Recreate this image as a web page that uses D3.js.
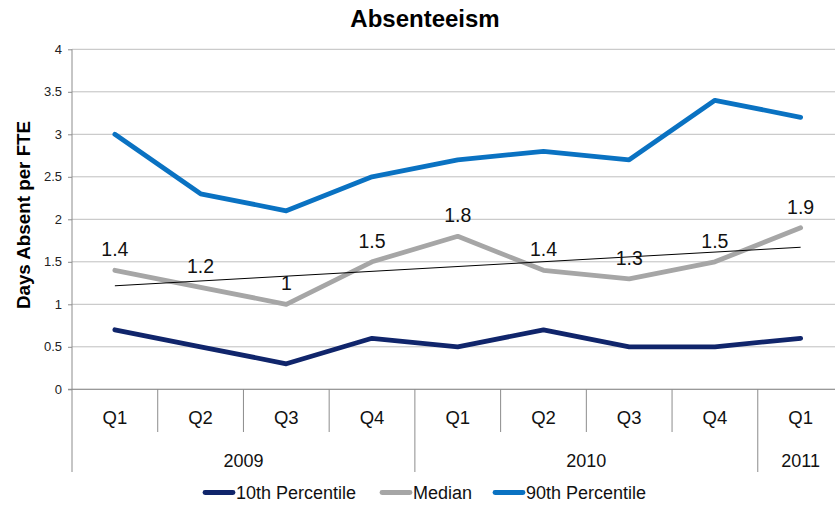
<!DOCTYPE html>
<html>
<head>
<meta charset="utf-8">
<script src="https://cdn.jsdelivr.net/npm/d3@7"></script>
<style>
  body { margin: 0; background: #fff; }
  svg { display: block; font-family: "Liberation Sans", Arial, sans-serif; }
</style>
</head>
<body>
<svg id="chart" width="835" height="506"></svg>
<script>
// Quarterly absenteeism, days absent per FTE
const quarters = ["Q1", "Q2", "Q3", "Q4", "Q1", "Q2", "Q3", "Q4", "Q1"];
const years = ["2009", "2009", "2009", "2009", "2010", "2010", "2010", "2010", "2011"];
const p10 = [0.7, 0.5, 0.3, 0.6, 0.5, 0.7, 0.5, 0.5, 0.6];
const median = [1.4, 1.2, 1.0, 1.5, 1.8, 1.4, 1.3, 1.5, 1.9];
const p90 = [3.0, 2.3, 2.1, 2.5, 2.7, 2.8, 2.7, 3.4, 3.2];
const yTicks = [0, 0.5, 1, 1.5, 2, 2.5, 3, 3.5, 4];
const seriesNames = ["10th Percentile", "Median", "90th Percentile"];
const seriesColors = ["#10256b", "#a6a6a6", "#0a72c2"];

const svg = d3.select("#chart");
const plotLeft = 72, plotRight = 843.5, plotTop = 49.3, plotBottom = 389.3;

const idx = d3.range(quarters.length);
const x = d3.scaleBand().domain(idx).range([plotLeft, plotRight]).padding(0);
const cx = i => x(i) + x.bandwidth() / 2;
const y = d3.scaleLinear().domain([0, 4]).range([plotBottom, plotTop]);

// Horizontal gridlines
svg.append("g").selectAll("line").data(yTicks).join("line")
  .attr("x1", plotLeft).attr("x2", plotRight)
  .attr("y1", d => y(d)).attr("y2", d => y(d))
  .attr("stroke", "#bfbfbf").attr("stroke-width", 1);

// Y axis
const yAxis = svg.append("g").attr("transform", `translate(${plotLeft},0)`)
  .call(d3.axisLeft(y).tickValues(yTicks).tickSize(4).tickPadding(6)
    .tickFormat(d => d3.format("~g")(d)));
yAxis.select(".domain").remove();
yAxis.selectAll(".tick line").attr("stroke", "#8c8c8c");
yAxis.selectAll(".tick text").attr("font-size", 13).attr("fill", "#222")
  .attr("font-family", "Liberation Sans, Arial, sans-serif");
svg.append("line").attr("x1", plotLeft).attr("x2", plotLeft).attr("y1", plotTop).attr("y2", 472)
  .attr("stroke", "#8c8c8c");

// X axis baseline
svg.append("line").attr("x1", plotLeft - 4).attr("x2", plotRight).attr("y1", plotBottom).attr("y2", plotBottom)
  .attr("stroke", "#8c8c8c");

// Quarter dividers and labels
const quarterLevel = svg.append("g");
idx.slice(1).forEach(i => {
  const isYearBreak = years[i] !== years[i - 1];
  quarterLevel.append("line")
    .attr("x1", x(i)).attr("x2", x(i))
    .attr("y1", plotBottom).attr("y2", isYearBreak ? 472 : 432)
    .attr("stroke", "#8c8c8c");
});
quarterLevel.selectAll("text").data(idx).join("text")
  .attr("x", i => cx(i)).attr("y", 423.5)
  .attr("text-anchor", "middle").attr("font-size", 18.5).attr("fill", "#111")
  .text(i => quarters[i]);

// Year group labels
const yearGroups = d3.groups(idx, i => years[i]);
svg.append("g").selectAll("text").data(yearGroups).join("text")
  .attr("x", d => (x(d[1][0]) + x(d[1][d[1].length - 1]) + x.bandwidth()) / 2)
  .attr("y", 466.5)
  .attr("text-anchor", "middle").attr("font-size", 18).attr("fill", "#111")
  .text(d => d[0]);

// Series lines
const line = d3.line().x((d, i) => cx(i)).y(d => y(d));
[p10, median, p90].forEach((vals, k) => {
  svg.append("path").datum(vals)
    .attr("d", line)
    .attr("fill", "none")
    .attr("stroke", seriesColors[k])
    .attr("stroke-width", 4.8)
    .attr("stroke-linejoin", "round")
    .attr("stroke-linecap", "round");
});

// Linear trend of the median
const n = median.length;
const xs = idx.map(i => i + 1);
const mx = d3.mean(xs), my = d3.mean(median);
const slope = d3.sum(xs, (v, i) => (v - mx) * (median[i] - my)) / d3.sum(xs, v => (v - mx) ** 2);
const intercept = my - slope * mx;
svg.append("line")
  .attr("x1", cx(0)).attr("y1", y(intercept + slope * xs[0]))
  .attr("x2", cx(n - 1)).attr("y2", y(intercept + slope * xs[n - 1]))
  .attr("stroke", "#000").attr("stroke-width", 1);

// Median value labels
svg.append("g").selectAll("text").data(median).join("text")
  .attr("x", (d, i) => cx(i)).attr("y", d => y(d) - 14)
  .attr("text-anchor", "middle").attr("font-size", 19.5).attr("fill", "#111")
  .text(d => d3.format("~g")(d));

// Title
svg.append("text").attr("x", 425).attr("y", 27)
  .attr("text-anchor", "middle").attr("font-size", 24).attr("font-weight", "bold")
  .text("Absenteeism");

// Y axis title
svg.append("text")
  .attr("transform", "translate(29.5,215) rotate(-90)")
  .attr("text-anchor", "middle").attr("font-size", 18.8).attr("font-weight", "bold")
  .text("Days Absent per FTE");

// Legend
const legendX = [205, 382, 495];
const legend = svg.append("g");
seriesNames.forEach((name, k) => {
  legend.append("line")
    .attr("x1", legendX[k]).attr("x2", legendX[k] + 28)
    .attr("y1", 492.5).attr("y2", 492.5)
    .attr("stroke", seriesColors[k]).attr("stroke-width", 4.8)
    .attr("stroke-linecap", "round");
  legend.append("text")
    .attr("x", legendX[k] + 31).attr("y", 499)
    .attr("font-size", 18).attr("fill", "#111")
    .text(name);
});
</script>
</body>
</html>
